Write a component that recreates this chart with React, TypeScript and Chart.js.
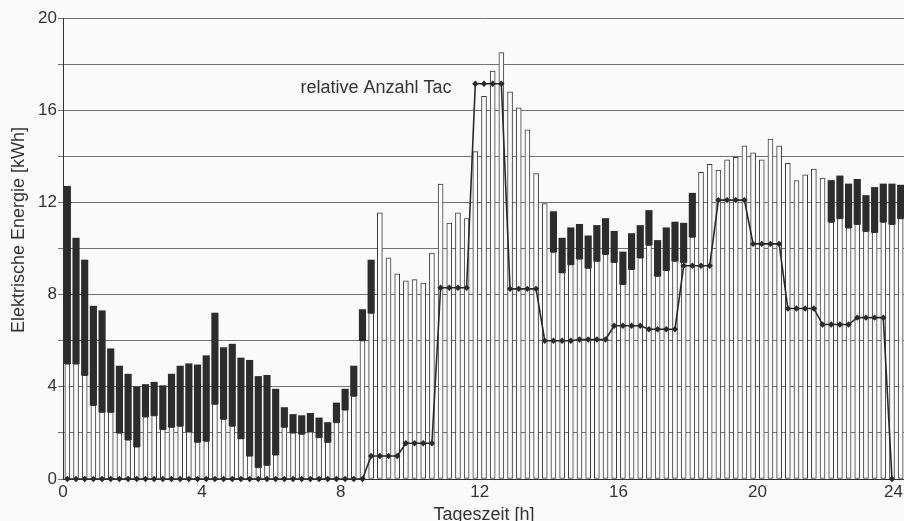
import React, { useEffect, useRef } from "react";
import { Chart, registerables } from "chart.js";

Chart.register(...registerables);

// 15-minute time slots (97 slots, the last one is cut at the right edge)
const SLOT_COUNT = 97;
const SLOTS: string[] = Array.from({ length: SLOT_COUNT }, (_, k) => {
  const m = k * 15;
  return `${Math.floor(m / 60)}:${String(m % 60).padStart(2, "0")}`;
});

// hollow (white) bars: from 0 up to this value
const WHITE_BAR: number[] = [
  5.0, 5.0, 4.5, 3.2, 2.9, 2.9, 2.0, 1.7, 1.4, 2.7,
  2.75, 2.15, 2.25, 2.3, 2.05, 1.6, 1.65, 3.25, 2.6, 2.3,
  1.75, 1.0, 0.5, 0.6, 1.05, 2.25, 2.0, 1.95, 2.05, 1.8,
  1.6, 2.45, 3.0, 3.6, 6.0, 7.2, 11.55, 9.6, 8.9, 8.6,
  8.65, 8.5, 9.8, 12.8, 11.1, 11.55, 11.3, 14.2, 16.6, 17.7,
  18.5, 16.8, 16.1, 15.15, 13.25, 11.95, 9.85, 8.95, 9.3, 9.55,
  9.15, 9.45, 9.75, 9.4, 8.45, 9.1, 9.6, 10.15, 8.8, 9.05,
  9.45, 9.4, 10.5, 13.3, 13.65, 13.4, 13.85, 13.95, 14.45, 14.15,
  13.85, 14.75, 14.45, 13.7, 12.95, 13.2, 13.45, 13.05, 11.15, 11.3,
  10.9, 11.05, 10.75, 10.7, 11.15, 11.05, 11.3,
];

// dark floating bars: from the white bar's top up to this value
const BLACK_TOP: (number | null)[] = [
  12.7, 10.45, 9.5, 7.5, 7.3, 5.65, 4.9, 4.55, 4.0, 4.1,
  4.2, 4.05, 4.55, 4.9, 5.0, 4.95, 5.35, 7.2, 5.7, 5.85,
  5.25, 5.15, 4.45, 4.5, 3.9, 3.1, 2.8, 2.75, 2.85, 2.65,
  2.45, 3.3, 3.9, 4.9, 7.35, 9.5, null, null, null, null,
  null, null, null, null, null, null, null, null, null, null,
  null, null, null, null, null, null, 11.6, 10.45, 10.9, 11.05,
  10.55, 11.0, 11.3, 10.75, 9.85, 10.65, 11.0, 11.65, 10.35, 10.9,
  11.15, 11.1, 12.4, null, null, null, null, null, null, null,
  null, null, null, null, null, null, null, null, 12.95, 13.15,
  12.8, 13.0, 12.3, 12.65, 12.8, 12.8, 12.75,
];

// line "relative Anzahl Tac"
const TAC_LINE: (number | null)[] = [
  0, 0, 0, 0, 0, 0, 0, 0, 0, 0,
  0, 0, 0, 0, 0, 0, 0, 0, 0, 0,
  0, 0, 0, 0, 0, 0, 0, 0, 0, 0,
  0, 0, 0, 0, 0, 1.0, 1.0, 1.0, 1.0, 1.55,
  1.55, 1.55, 1.55, 8.3, 8.3, 8.3, 8.3, 17.15, 17.15, 17.15,
  17.15, 8.25, 8.25, 8.25, 8.25, 6.0, 6.0, 6.0, 6.0, 6.05,
  6.05, 6.05, 6.05, 6.65, 6.65, 6.65, 6.65, 6.5, 6.5, 6.5,
  6.5, 9.25, 9.25, 9.25, 9.25, 12.1, 12.1, 12.1, 12.1, 10.2,
  10.2, 10.2, 10.2, 7.4, 7.4, 7.4, 7.4, 6.7, 6.7, 6.7,
  6.7, 7.0, 7.0, 7.0, 7.0, 0, null,
];

const HOUR_TICKS = [0, 4, 8, 12, 16, 20, 24];
const Y_TITLE = "Elektrische Energie [kWh]";
const X_TITLE = "Tageszeit [h]";
const LINE_LABEL = "relative Anzahl Tac";

const FONT = "'Liberation Sans', Arial, Helvetica, sans-serif";
const TEXT_COLOR = "#333333";
const VIEW_W = 904;

export default function App() {
  const ref = useRef<HTMLCanvasElement | null>(null);

  useEffect(() => {
    const canvas = ref.current;
    if (!canvas) return;

    const blackData = BLACK_TOP.map((top, k) =>
      top == null ? null : [WHITE_BAR[k], top]
    );

    const bgPlugin = {
      id: "bg",
      beforeDraw(chart: any) {
        const { ctx, width, height } = chart;
        ctx.save();
        ctx.fillStyle = "#fafafa";
        ctx.fillRect(0, 0, width, height);
        ctx.restore();
      },
    };

    const textPlugin = {
      id: "texts",
      afterDraw(chart: any) {
        const { ctx } = chart;
        const xs = chart.scales.xh;
        ctx.save();
        ctx.fillStyle = TEXT_COLOR;
        // last hour label, kept inside the visible picture
        ctx.font = `17px ${FONT}`;
        ctx.textAlign = "center";
        ctx.textBaseline = "middle";
        const last = HOUR_TICKS[HOUR_TICKS.length - 1];
        const w = ctx.measureText(String(last)).width;
        const px = Math.min(xs.getPixelForValue(last), VIEW_W - w / 2 - 1);
        ctx.fillText(String(last), px, xs.top + 3 + 10.2);
        // x title
        ctx.font = `18px ${FONT}`;
        ctx.textBaseline = "alphabetic";
        ctx.fillText(X_TITLE, 484, 519.5);
        // line annotation
        ctx.fillText(LINE_LABEL, 376, 93.3);
        // y title
        ctx.translate(24, 230);
        ctx.rotate(-Math.PI / 2);
        ctx.fillText(Y_TITLE, 0, 0);
        ctx.restore();
      },
    };

    const chart = new Chart(canvas, {
      type: "bar",
      data: {
        labels: SLOTS,
        datasets: [
          {
            type: "line",
            label: LINE_LABEL,
            data: TAC_LINE,
            xAxisID: "x",
            yAxisID: "y",
            borderColor: "#2a2a2a",
            borderWidth: 1.6,
            pointStyle: "rectRot",
            pointRadius: 3.2,
            pointBackgroundColor: "#2a2a2a",
            pointBorderWidth: 0,
            tension: 0,
            clip: false,
            order: 0,
          } as any,
          {
            type: "bar",
            label: "dark",
            data: blackData as any,
            xAxisID: "x",
            yAxisID: "y",
            backgroundColor: "#2c2c2c",
            borderWidth: 0,
            barThickness: 6.5,
            grouped: false,
            order: 1,
          } as any,
          {
            type: "bar",
            label: "white",
            data: WHITE_BAR,
            xAxisID: "x",
            yAxisID: "y",
            backgroundColor: "#fbfbfb",
            borderColor: "#3a3a3a",
            borderWidth: 1,
            borderSkipped: false,
            barThickness: 5,
            grouped: false,
            order: 2,
          } as any,
        ],
      },
      options: {
        animation: false,
        responsive: false,
        devicePixelRatio: 1,
        layout: { padding: { top: 18, left: 0, right: 0, bottom: 0 } },
        plugins: {
          legend: { display: false },
          tooltip: { enabled: false },
        },
        scales: {
          x: {
            type: "category",
            display: false,
            offset: true,
            grid: { display: false },
          },
          xh: {
            type: "linear",
            position: "bottom",
            offset: false,
            min: 0,
            max: SLOT_COUNT * 0.25,
            afterBuildTicks(scale: any) {
              scale.ticks = HOUR_TICKS.map((v) => ({ value: v }));
            },
            afterFit(scale: any) {
              scale.height = 42;
              scale.paddingLeft = 0;
              scale.paddingRight = 0;
            },
            ticks: {
              autoSkip: false,
              maxRotation: 0,
              padding: 3,
              color: TEXT_COLOR,
              font: { family: FONT, size: 17, lineHeight: 1.2 },
              callback: (v: any) =>
                Number(v) === HOUR_TICKS[HOUR_TICKS.length - 1] ? "" : String(v),
            },
            grid: { display: false, drawTicks: false, offset: false },
            border: { display: true, color: "#333333", width: 1 },
          } as any,
          y: {
            min: 0,
            max: 20,
            afterFit(scale: any) {
              scale.width = 63;
              scale.paddingTop = 0;
              scale.paddingBottom = 0;
            },
            ticks: {
              stepSize: 2,
              padding: 1,
              color: TEXT_COLOR,
              font: { family: FONT, size: 17 },
              callback: (v: any) => (Number(v) % 4 === 0 ? String(v) : ""),
            },
            grid: {
              color: "#737373",
              lineWidth: 1,
              drawTicks: true,
              tickLength: 5,
            },
            border: { display: true, color: "#333333", width: 1 },
          } as any,
        },
      },
      plugins: [bgPlugin, textPlugin],
    });

    return () => chart.destroy();
  }, []);

  return (
    <div
      style={{
        position: "fixed",
        left: 0,
        top: 0,
        width: VIEW_W,
        height: 521,
        overflow: "hidden",
        background: "#fafafa",
      }}
    >
      <canvas
        ref={ref}
        width={909}
        height={521}
        style={{ display: "block", width: 909, height: 521 }}
      />
    </div>
  );
}
